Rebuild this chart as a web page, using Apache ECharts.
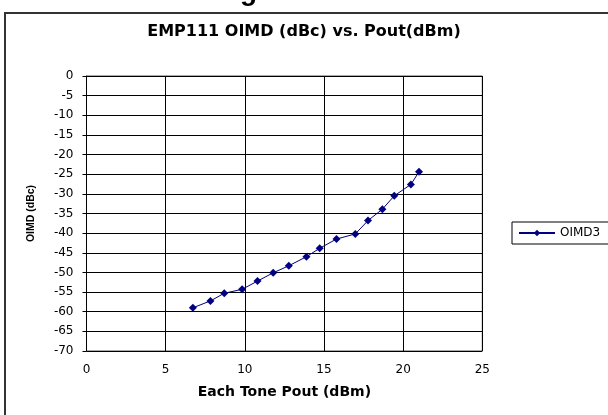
<!DOCTYPE html>
<html>
<head>
<meta charset="utf-8">
<script src="https://cdn.jsdelivr.net/npm/echarts@6/dist/echarts.min.js"></script>
<style>html,body{margin:0;padding:0;background:#fff;}#c{width:608px;height:415px;}</style>
</head>
<body>
<div id="c"></div>
<script>
var seriesName = 'OIMD3';
var poutDbm = [6.72, 7.83, 8.70, 9.83, 10.80, 11.79, 12.78, 13.89, 14.73, 15.79, 16.98, 17.78, 18.69, 19.44, 20.49, 21.0];
var oimdDbc = [-59.0, -57.25, -55.3, -54.3, -52.2, -50.1, -48.3, -46.0, -43.85, -41.5, -40.2, -36.8, -33.9, -30.5, -27.6, -24.4];
var titleText = 'EMP111 OIMD (dBc) vs. Pout(dBm)';
var xName = 'Each Tone Pout (dBm)';
var yName = 'OIMD (dBc)';

var pts = poutDbm.map(function (x, i) { return [x, oimdDbc[i]]; });
var font = 'DejaVu Sans, Verdana, sans-serif';
var chart = echarts.init(document.getElementById('c'), null, {renderer: 'canvas'});
chart.setOption({
  animation: false,
  backgroundColor: '#fff',
  title: {
    text: titleText, left: 'center', top: 19,
    textStyle: {fontFamily: font, fontSize: 16, fontWeight: 'bold', color: '#000'}
  },
  grid: {left: 86.5, right: 125.7, top: 76, bottom: 64, show: true, borderColor: '#555', borderWidth: 1, backgroundColor: '#fff'},
  legend: {
    left: 512, top: 222, orient: 'vertical',
    data: [seriesName],
    itemWidth: 36, itemHeight: 8, itemGap: 4,
    padding: [5, 16, 5, 6],
    borderColor: '#000', borderWidth: 1,
    textStyle: {fontFamily: font, fontSize: 12, color: '#000'}
  },
  xAxis: {
    type: 'value', min: 0, max: 25, interval: 5,
    name: xName, nameLocation: 'middle', nameGap: 34,
    nameTextStyle: {fontFamily: font, fontSize: 14, fontWeight: 'bold', color: '#000'},
    axisLine: {lineStyle: {color: '#000', width: 1}},
    axisTick: {show: true, inside: false, length: 4, lineStyle: {color: '#000'}},
    axisLabel: {fontFamily: font, fontSize: 12, color: '#000', margin: 13},
    splitLine: {show: true, lineStyle: {color: '#000', width: 1}}
  },
  yAxis: {
    type: 'value', min: -70, max: 0, interval: 5,
    name: yName, nameLocation: 'middle', nameGap: 50, nameRotate: 90,
    nameTextStyle: {fontFamily: 'Liberation Sans, Arial, sans-serif', fontSize: 10.5, fontWeight: 'bold', color: '#000'},
    axisLine: {show: true, lineStyle: {color: '#000', width: 1}},
    axisTick: {show: true, inside: false, length: 4, lineStyle: {color: '#000'}},
    axisLabel: {fontFamily: font, fontSize: 12, color: '#000', margin: 13},
    splitLine: {show: true, lineStyle: {color: '#000', width: 1}}
  },
  series: [{
    name: seriesName, type: 'line', data: pts,
    symbol: 'diamond', symbolSize: 8, showSymbol: true,
    itemStyle: {color: '#000080'},
    lineStyle: {color: '#000080', width: 1}
  }],
  graphic: [
    {type: 'line', shape: {x1: 5, y1: 13, x2: 5, y2: 415}, style: {stroke: '#333', lineWidth: 2}},
    {type: 'line', shape: {x1: 4, y1: 13, x2: 608, y2: 13}, style: {stroke: '#333', lineWidth: 2}},
    {type: 'text', left: 240, top: -22, style: {text: 'g', font: 'bold 28px Liberation Sans, Arial', fill: '#000'}}
  ]
});
</script>
</body>
</html>
